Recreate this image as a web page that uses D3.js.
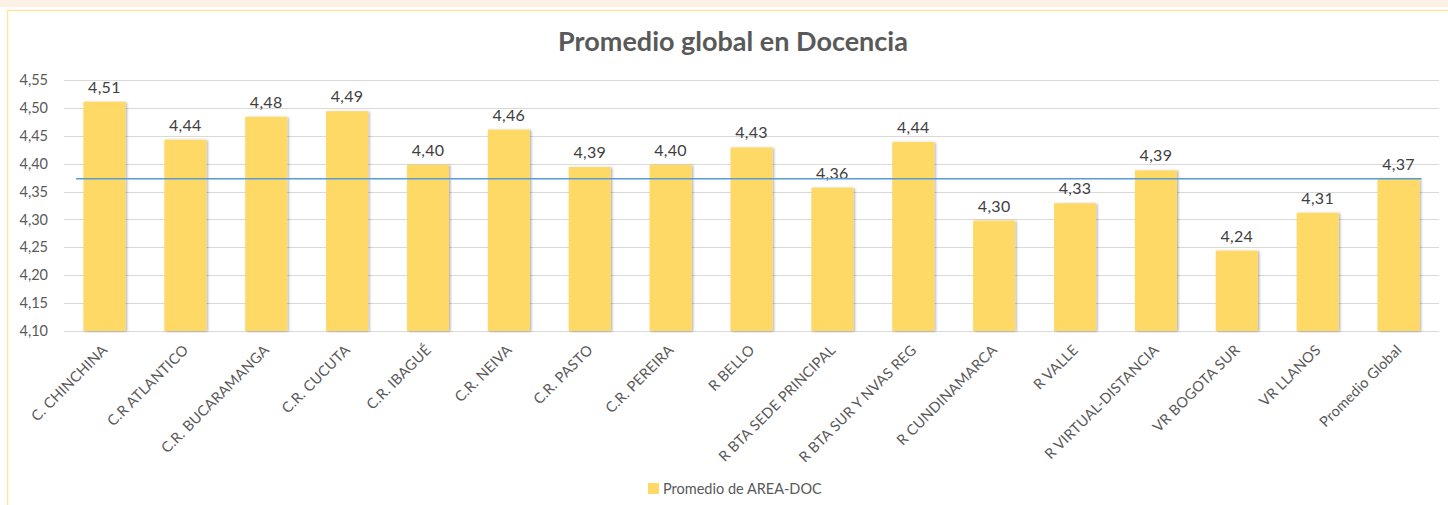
<!DOCTYPE html>
<html>
<head>
<meta charset="utf-8">
<script src="https://cdn.jsdelivr.net/npm/d3@7.9.0/dist/d3.min.js"></script>
<style>
  body { margin: 0; background: #fff; }
  svg { display: block; font-family: Lato, "Open Sans", sans-serif; }
</style>
</head>
<body>
<svg id="chart" width="1448" height="505"></svg>
<script>
// data
const categories = [
  'C. CHINCHINA', 'C.R ATLANTICO', 'C.R. BUCARAMANGA', 'C.R. CUCUTA', 'C.R. IBAGUÉ',
  'C.R. NEIVA', 'C.R. PASTO', 'C.R. PEREIRA', 'R BELLO', 'R BTA SEDE PRINCIPAL',
  'R BTA SUR Y NVAS REG', 'R CUNDINAMARCA', 'R VALLE', 'R VIRTUAL-DISTANCIA',
  'VR BOGOTA SUR', 'VR LLANOS', 'Promedio Global'
];
const promedio = [
  4.511, 4.443, 4.484, 4.494, 4.398, 4.461, 4.394, 4.398, 4.429, 4.357,
  4.439, 4.298, 4.329, 4.388, 4.244, 4.312, 4.373
];
const promedioGlobal = 4.373;
const yTicks = [4.10, 4.15, 4.20, 4.25, 4.30, 4.35, 4.40, 4.45, 4.50, 4.55];
const seriesName = 'Promedio de AREA-DOC';

const svg = d3.select('#chart');
const fmt = d3.formatLocale({ decimal: ',', thousands: '.', grouping: [3], currency: ['', ''] }).format('.2f');

// frame
svg.append('rect').attr('x', 0).attr('y', 0).attr('width', 1448).attr('height', 7).attr('fill', '#fdf0e4');
svg.append('rect').attr('x', 7.5).attr('y', 10.5).attr('width', 1460).attr('height', 520)
  .attr('fill', '#fff').attr('stroke', '#ffe699').attr('stroke-width', 1.5);

const defs = svg.append('defs');
const f = defs.append('filter').attr('id', 'shadow').attr('x', '-20%').attr('y', '-5%').attr('width', '140%').attr('height', '110%');
f.append('feDropShadow').attr('dx', 1.5).attr('dy', 0.5).attr('stdDeviation', 1.2)
  .attr('flood-color', '#000').attr('flood-opacity', 0.3);

const x = d3.scaleBand().domain(categories).range([64, 1439]).paddingInner(0.48).paddingOuter(0.24);
const y = d3.scaleLinear().domain([4.10, 4.55]).range([331, 80]);

// title
svg.append('text').attr('x', 733).attr('y', 51).attr('text-anchor', 'middle')
  .attr('font-size', 27).attr('font-weight', 'bold').attr('fill', '#595959')
  .text('Promedio global en Docencia');

// grid
svg.append('g').selectAll('line').data(yTicks).join('line')
  .attr('x1', 64).attr('x2', 1439)
  .attr('y1', d => Math.round(y(d)) + 0.5).attr('y2', d => Math.round(y(d)) + 0.5)
  .attr('stroke', '#d9d9d9').attr('stroke-width', 1);

// y axis labels
const yAxis = svg.append('g').attr('transform', 'translate(64,0)')
  .call(d3.axisLeft(y).tickValues(yTicks).tickFormat(fmt).tickSize(0).tickPadding(16));
yAxis.select('.domain').remove();
yAxis.selectAll('text').attr('font-family', 'Lato, sans-serif').attr('font-size', 14.5).attr('fill', '#595959');

// bars
svg.append('g').selectAll('rect').data(promedio).join('rect')
  .attr('x', (d, i) => x(categories[i]))
  .attr('y', d => y(d))
  .attr('width', x.bandwidth())
  .attr('height', d => y(4.10) - y(d))
  .attr('fill', '#ffd966')
  .attr('filter', 'url(#shadow)');

// value labels
svg.append('g').selectAll('text').data(promedio).join('text')
  .attr('x', (d, i) => x(categories[i]) + x.bandwidth() / 2)
  .attr('y', d => y(d) - 9)
  .attr('text-anchor', 'middle').attr('font-size', 16).attr('fill', '#404040')
  .attr('letter-spacing', 0.3)
  .text(d => fmt(d));

// average line
const bw = x.step();
svg.append('line')
  .attr('x1', x(categories[0]) - bw * 0.09)
  .attr('x2', x(categories[categories.length - 1]) + x.bandwidth() + 2)
  .attr('y1', y(promedioGlobal)).attr('y2', y(promedioGlobal))
  .attr('stroke', '#5b9bd5').attr('stroke-width', 1.5);

// x axis labels
const xAxis = svg.append('g').attr('transform', `translate(0,${y(4.10)})`)
  .call(d3.axisBottom(x).tickSize(0).tickPadding(0));
xAxis.select('.domain').remove();
xAxis.selectAll('text')
  .attr('font-family', 'Lato, sans-serif').attr('font-size', 14.5).attr('fill', '#595959')
  .attr('letter-spacing', 0.2)
  .attr('text-anchor', 'end').attr('dy', 0)
  .attr('transform', 'translate(4,20) rotate(-45)');

// legend
const lg = svg.append('g').attr('transform', 'translate(648,483)');
lg.append('rect').attr('width', 11).attr('height', 11).attr('fill', '#ffd966');
lg.append('text').attr('x', 15).attr('y', 10.5).attr('font-size', 14.5).attr('fill', '#595959').text(seriesName);
</script>
</body>
</html>
